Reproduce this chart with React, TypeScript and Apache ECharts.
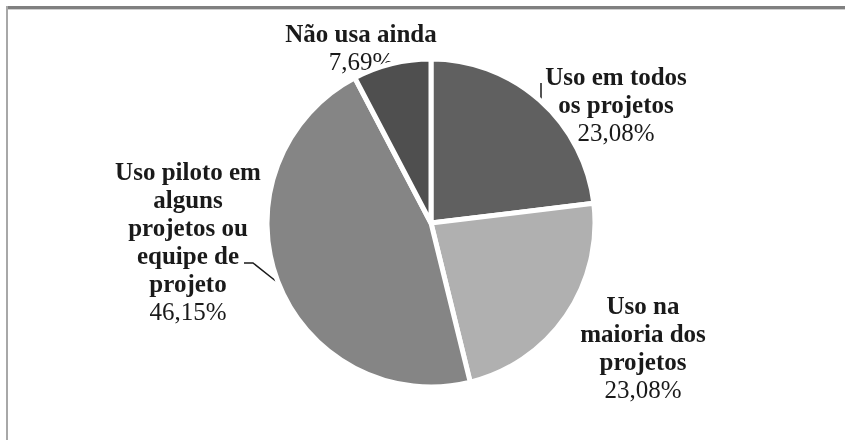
import React, { useEffect, useRef } from "react";
import * as echarts from "echarts";

const categories = [
  "Uso em todos\nos projetos",
  "Uso na\nmaioria dos\nprojetos",
  "Uso piloto em\nalguns\nprojetos ou\nequipe de\nprojeto",
  "Não usa ainda",
];
const counts = [3, 3, 6, 1];
const colors = ["#606060", "#b0b0b0", "#858585", "#4f4f4f"];

// label block centres and leader-line points (layout only)
const labelPos: [number, number][] = [
  [616, 104],
  [643, 347],
  [188, 241],
  [361, 47],
];
const linePts: ([number, number][] | null)[] = [
  [[541, 104], [541, 83]],
  null,
  [[277, 282], [253, 263], [244, 263]],
  null,
];

const LH = 28;
const BOLD = "bold 25px Liberation Serif, serif";
const REG = "25px Liberation Serif, serif";

export default function App() {
  const ref = useRef<HTMLDivElement>(null);
  useEffect(() => {
    if (!ref.current) return;
    const chart = echarts.init(ref.current, undefined, { renderer: "svg" });
    const total = counts.reduce((a, b) => a + b, 0);
    const labelGraphics: any[] = [];
    categories.forEach((c, i) => {
      const pct = ((counts[i] / total) * 100).toFixed(2).replace(".", ",") + "%";
      const lines = c.split("\n").map((t) => ({ t, font: BOLD }));
      lines.push({ t: pct, font: REG });
      const N = lines.length;
      lines.forEach((ln, k) => {
        labelGraphics.push({
          type: "text",
          x: labelPos[i][0],
          y: labelPos[i][1] + (k - (N - 1) / 2) * LH,
          silent: true,
          style: {
            text: ln.t,
            font: ln.font,
            fill: "#1a1a1a",
            align: "center",
            verticalAlign: "middle",
          },
        });
      });
      const pts = linePts[i];
      if (pts) {
        labelGraphics.push({
          type: "polyline",
          silent: true,
          shape: { points: pts },
          style: { stroke: "#1a1a1a", lineWidth: 1.5, fill: "none" },
        });
      }
    });
    chart.setOption({
      animation: false,
      graphic: [
        { type: "rect", shape: { x: 6, y: 6, width: 839, height: 3 }, style: { fill: "#808080" }, silent: true },
        { type: "rect", shape: { x: 6, y: 9, width: 839, height: 1 }, style: { fill: "#d0d0d0" }, silent: true },
        { type: "rect", shape: { x: 6, y: 6, width: 2, height: 434 }, style: { fill: "#a8a8a8" }, silent: true },
        ...labelGraphics,
      ],
      series: [
        {
          type: "pie",
          center: [431, 223],
          radius: 164,
          startAngle: 90,
          clockwise: true,
          itemStyle: { borderColor: "#ffffff", borderWidth: 5 },
          label: { show: false },
          labelLine: { show: false },
          data: categories.map((c, i) => ({
            name: c,
            value: counts[i],
            itemStyle: { color: colors[i] },
          })),
        },
      ],
    });
    return () => chart.dispose();
  }, []);
  return (
    <div
      ref={ref}
      style={{ position: "fixed", left: 0, top: 0, width: 845, height: 440 }}
    />
  );
}
